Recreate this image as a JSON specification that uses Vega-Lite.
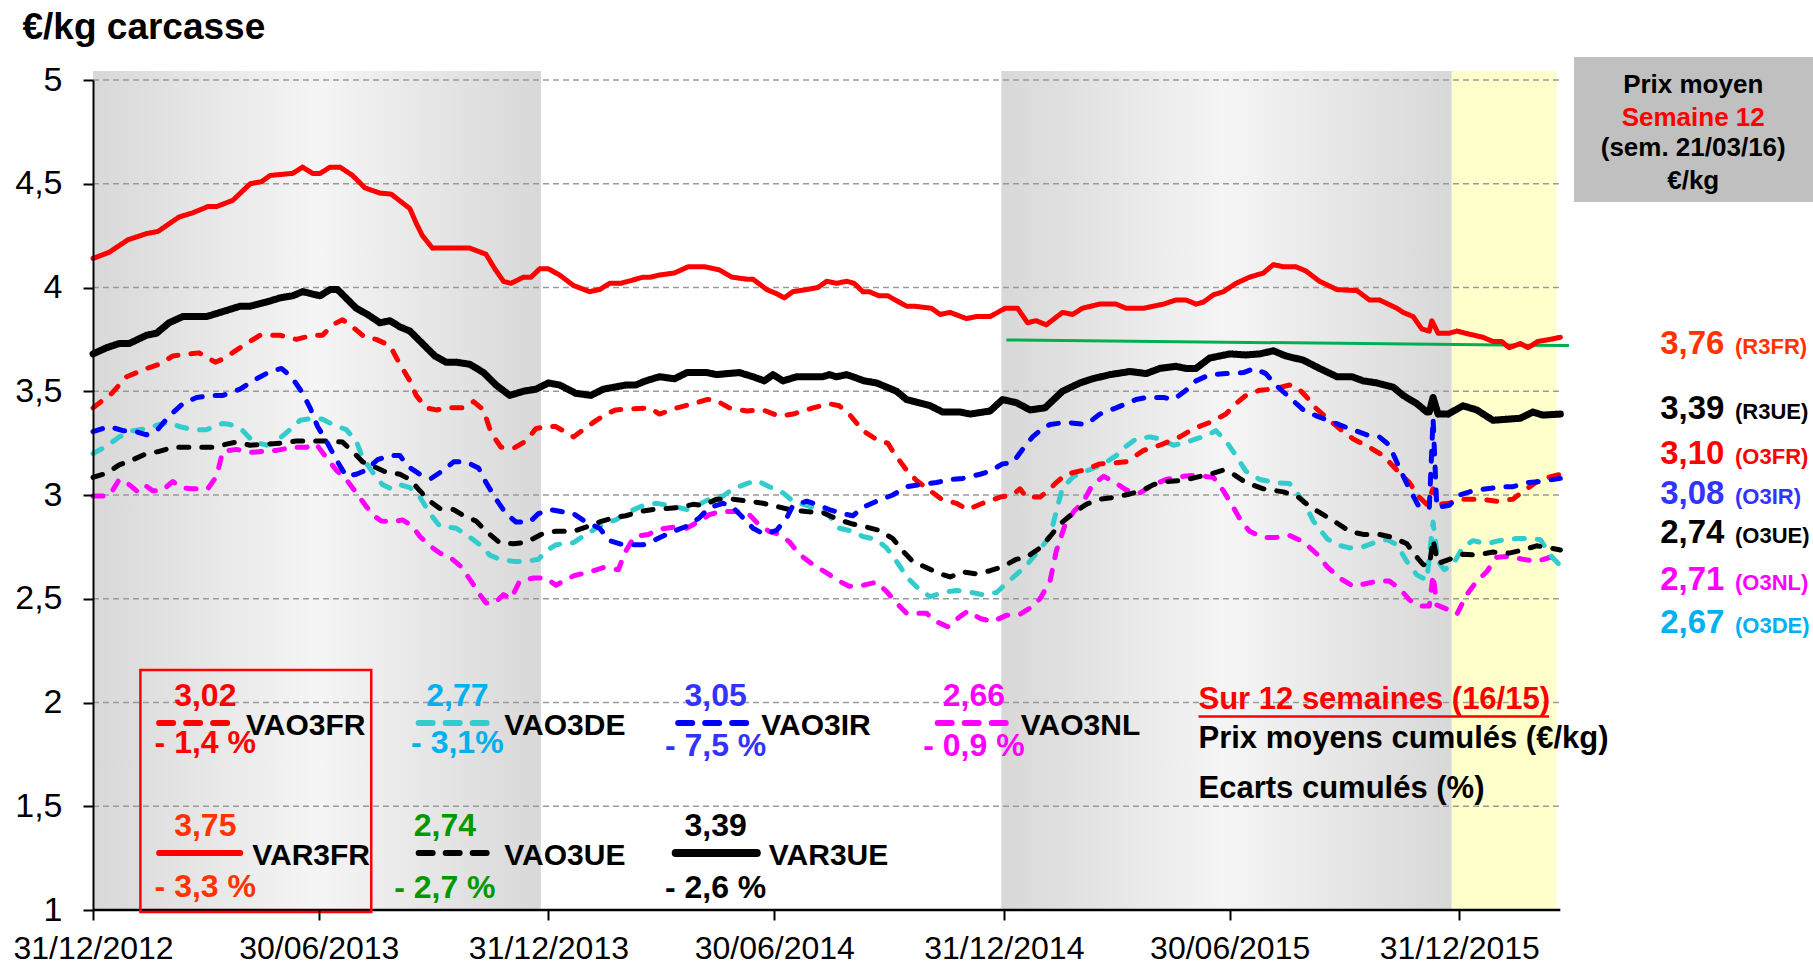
{
  "$schema": "https://vega.github.io/schema/vega-lite/v6.json",
  "width": 1720,
  "height": 830,
  "autosize": {"type": "none"},
  "padding": {"left": 93, "top": 80, "right": 0, "bottom": 57},
  "background": "white",
  "config": {"view": {"stroke": null}, "font": "Liberation Sans"},
  "datasets": {
    "legend": [
      {"s": "O3FR", "label": "VAO3FR", "price": "3,02", "pct": "- 1,4 %", "a": "2013-02-22", "b": "2013-04-23", "c": "2013-03-31", "y": 1.901, "q": 1.805},
      {"s": "O3DE", "label": "VAO3DE", "price": "2,77", "pct": "- 3,1%", "a": "2013-09-18", "b": "2013-11-16", "c": "2013-10-19", "y": 1.901, "q": 1.805},
      {"s": "O3IR", "label": "VAO3IR", "price": "3,05", "pct": "- 7,5 %", "a": "2014-04-14", "b": "2014-06-10", "c": "2014-05-14", "y": 1.901, "q": 1.79},
      {"s": "O3NL", "label": "VAO3NL", "price": "2,66", "pct": "- 0,9 %", "a": "2014-11-08", "b": "2015-01-04", "c": "2014-12-07", "y": 1.901, "q": 1.79},
      {"s": "R3FR", "label": "VAR3FR", "price": "3,75", "pct": "- 3,3 %", "a": "2013-02-22", "b": "2013-04-28", "c": "2013-03-31", "y": 1.275, "q": 1.113},
      {"s": "O3UE", "label": "VAO3UE", "price": "2,74", "pct": "- 2,7 %", "a": "2013-09-18", "b": "2013-11-16", "c": "2013-10-09", "y": 1.275, "q": 1.106},
      {"s": "R3UE", "label": "VAR3UE", "price": "3,39", "pct": "- 2,6 %", "a": "2014-04-12", "b": "2014-06-16", "c": "2014-05-14", "y": 1.275, "q": 1.106}
    ],
    "latest": [
      {"s": "R3FR", "price": "3,76", "code": "(R3FR)", "y": 3.68},
      {"s": "R3UE", "price": "3,39", "code": "(R3UE)", "y": 3.365},
      {"s": "O3FR", "price": "3,10", "code": "(O3FR)", "y": 3.15},
      {"s": "O3IR", "price": "3,08", "code": "(O3IR)", "y": 2.955},
      {"s": "O3UE", "price": "2,74", "code": "(O3UE)", "y": 2.77},
      {"s": "O3NL", "price": "2,71", "code": "(O3NL)", "y": 2.54},
      {"s": "O3DE", "price": "2,67", "code": "(O3DE)", "y": 2.335}
    ]
  },
  "resolve": {"scale": {"color": "independent", "strokeDash": "independent"}},
  "layer": [
    {
      "data": {"values": [{"a": "2012-12-31", "b": "2013-12-25"}, {"a": "2014-12-29", "b": "2015-12-25"}]},
      "mark": {"type": "rect", "color": {"gradient": "linear", "x1": 0, "x2": 1, "y1": 0, "y2": 0, "stops": [{"offset": 0, "color": "#d8d8d8"}, {"offset": 0.5, "color": "#f5f5f5"}, {"offset": 1, "color": "#d8d8d8"}]}},
      "encoding": {
        "x": {"field": "a", "type": "temporal", "scale": {"domain": [{"year": 2012, "month": 12, "date": 31}, {"year": 2016, "month": 10, "date": 9, "hours": 12}]}},
        "x2": {"field": "b"},
        "y": {"datum": 5.043, "type": "quantitative", "scale": {"domain": [1, 5]}},
        "y2": {"datum": 1}
      }
    },
    {
      "data": {"values": [{"a": "2015-12-25", "b": "2016-03-18"}]},
      "mark": {"type": "rect", "color": "#FFFFCC"},
      "encoding": {
        "x": {"field": "a", "type": "temporal"},
        "x2": {"field": "b"},
        "y": {"datum": 5.043, "type": "quantitative"},
        "y2": {"datum": 1}
      }
    },
    {
      "data": {"values": [{"g": 1.5}, {"g": 2}, {"g": 2.5}, {"g": 3}, {"g": 3.5}, {"g": 4}, {"g": 4.5}, {"g": 5}]},
      "mark": {"type": "rule", "color": "#9a9a9a", "strokeWidth": 1.6, "strokeDash": [6, 4]},
      "encoding": {
        "x": {"datum": {"year": 2012, "month": 12, "date": 31}, "type": "temporal"},
        "x2": {"datum": {"year": 2016, "month": 3, "date": 21}},
        "y": {"field": "g", "type": "quantitative"}
      }
    },
    {
      "data": {"values": [{"g": 1}]},
      "mark": {"type": "rule", "color": "black", "strokeWidth": 2.5},
      "encoding": {
        "x": {"datum": {"year": 2012, "month": 12, "date": 31}, "type": "temporal"},
        "x2": {"datum": {"year": 2016, "month": 3, "date": 21}},
        "y": {"field": "g", "type": "quantitative"}
      }
    },
    {
      "data": {"values": [{}]},
      "mark": {"type": "rect", "fill": "transparent", "stroke": "#FF0000", "strokeWidth": 2.5},
      "encoding": {
        "x": {"datum": {"year": 2013, "month": 2, "date": 7}, "type": "temporal"},
        "x2": {"datum": {"year": 2013, "month": 8, "date": 11}},
        "y": {"datum": 2.157, "type": "quantitative"},
        "y2": {"datum": 0.99}
      }
    },
    {
      "data": {"values": [{"t": "2015-01-02", "v": 3.747}, {"t": "2016-03-28", "v": 3.72}]},
      "mark": {"type": "line", "color": "#00B050", "strokeWidth": 3},
      "encoding": {
        "x": {"field": "t", "type": "temporal"},
        "y": {"field": "v", "type": "quantitative"}
      }
    },
    {
      "data": {
        "format": {"parse": {"t": "date:'%Y-%j'"}},
        "values": [
          {"s":"O3NL","t":"2012-366","v":2.995},{"s":"O3NL","t":"2013-012","v":2.995},{"s":"O3NL","t":"2013-016","v":3.025},{"s":"O3NL","t":"2013-021","v":3.075},{"s":"O3NL","t":"2013-029","v":3.05},{"s":"O3NL","t":"2013-035","v":3.02},{"s":"O3NL","t":"2013-041","v":3.05},{"s":"O3NL","t":"2013-048","v":3.02},{"s":"O3NL","t":"2013-055","v":3.02},{"s":"O3NL","t":"2013-064","v":3.065},{"s":"O3NL","t":"2013-071","v":3.035},{"s":"O3NL","t":"2013-080","v":3.03},{"s":"O3NL","t":"2013-092","v":3.03},{"s":"O3NL","t":"2013-099","v":3.09},{"s":"O3NL","t":"2013-104","v":3.21},{"s":"O3NL","t":"2013-115","v":3.22},{"s":"O3NL","t":"2013-126","v":3.205},{"s":"O3NL","t":"2013-136","v":3.21},{"s":"O3NL","t":"2013-147","v":3.215},{"s":"O3NL","t":"2013-160","v":3.23},{"s":"O3NL","t":"2013-171","v":3.23},{"s":"O3NL","t":"2013-179","v":3.245},{"s":"O3NL","t":"2013-187","v":3.18},{"s":"O3NL","t":"2013-195","v":3.12},{"s":"O3NL","t":"2013-203","v":3.075},{"s":"O3NL","t":"2013-211","v":3.01},{"s":"O3NL","t":"2013-219","v":2.945},{"s":"O3NL","t":"2013-224","v":2.905},{"s":"O3NL","t":"2013-231","v":2.875},{"s":"O3NL","t":"2013-240","v":2.87},{"s":"O3NL","t":"2013-248","v":2.88},{"s":"O3NL","t":"2013-256","v":2.85},{"s":"O3NL","t":"2013-262","v":2.8},{"s":"O3NL","t":"2013-270","v":2.755},{"s":"O3NL","t":"2013-278","v":2.72},{"s":"O3NL","t":"2013-286","v":2.7},{"s":"O3NL","t":"2013-295","v":2.655},{"s":"O3NL","t":"2013-303","v":2.585},{"s":"O3NL","t":"2013-310","v":2.52},{"s":"O3NL","t":"2013-315","v":2.48},{"s":"O3NL","t":"2013-322","v":2.48},{"s":"O3NL","t":"2013-329","v":2.52},{"s":"O3NL","t":"2013-335","v":2.5},{"s":"O3NL","t":"2013-342","v":2.585},{"s":"O3NL","t":"2013-353","v":2.6},{"s":"O3NL","t":"2013-363","v":2.6},{"s":"O3NL","t":"2014-006","v":2.565},{"s":"O3NL","t":"2014-020","v":2.61},{"s":"O3NL","t":"2014-033","v":2.63},{"s":"O3NL","t":"2014-044","v":2.65},{"s":"O3NL","t":"2014-056","v":2.64},{"s":"O3NL","t":"2014-062","v":2.73},{"s":"O3NL","t":"2014-069","v":2.8},{"s":"O3NL","t":"2014-080","v":2.81},{"s":"O3NL","t":"2014-089","v":2.835},{"s":"O3NL","t":"2014-100","v":2.845},{"s":"O3NL","t":"2014-111","v":2.84},{"s":"O3NL","t":"2014-121","v":2.875},{"s":"O3NL","t":"2014-129","v":2.905},{"s":"O3NL","t":"2014-137","v":2.92},{"s":"O3NL","t":"2014-151","v":2.92},{"s":"O3NL","t":"2014-161","v":2.905},{"s":"O3NL","t":"2014-169","v":2.855},{"s":"O3NL","t":"2014-177","v":2.825},{"s":"O3NL","t":"2014-185","v":2.81},{"s":"O3NL","t":"2014-193","v":2.775},{"s":"O3NL","t":"2014-201","v":2.715},{"s":"O3NL","t":"2014-212","v":2.665},{"s":"O3NL","t":"2014-223","v":2.625},{"s":"O3NL","t":"2014-233","v":2.585},{"s":"O3NL","t":"2014-241","v":2.56},{"s":"O3NL","t":"2014-252","v":2.565},{"s":"O3NL","t":"2014-263","v":2.58},{"s":"O3NL","t":"2014-271","v":2.535},{"s":"O3NL","t":"2014-279","v":2.48},{"s":"O3NL","t":"2014-287","v":2.43},{"s":"O3NL","t":"2014-303","v":2.43},{"s":"O3NL","t":"2014-311","v":2.39},{"s":"O3NL","t":"2014-320","v":2.365},{"s":"O3NL","t":"2014-330","v":2.415},{"s":"O3NL","t":"2014-336","v":2.44},{"s":"O3NL","t":"2014-346","v":2.405},{"s":"O3NL","t":"2014-356","v":2.39},{"s":"O3NL","t":"2015-002","v":2.42},{"s":"O3NL","t":"2015-013","v":2.425},{"s":"O3NL","t":"2015-021","v":2.455},{"s":"O3NL","t":"2015-029","v":2.5},{"s":"O3NL","t":"2015-037","v":2.585},{"s":"O3NL","t":"2015-042","v":2.73},{"s":"O3NL","t":"2015-049","v":2.855},{"s":"O3NL","t":"2015-056","v":2.92},{"s":"O3NL","t":"2015-064","v":2.97},{"s":"O3NL","t":"2015-071","v":3.05},{"s":"O3NL","t":"2015-080","v":3.09},{"s":"O3NL","t":"2015-088","v":3.065},{"s":"O3NL","t":"2015-098","v":3.025},{"s":"O3NL","t":"2015-109","v":3.01},{"s":"O3NL","t":"2015-120","v":3.05},{"s":"O3NL","t":"2015-130","v":3.075},{"s":"O3NL","t":"2015-144","v":3.09},{"s":"O3NL","t":"2015-154","v":3.095},{"s":"O3NL","t":"2015-168","v":3.085},{"s":"O3NL","t":"2015-176","v":3.02},{"s":"O3NL","t":"2015-184","v":2.94},{"s":"O3NL","t":"2015-190","v":2.875},{"s":"O3NL","t":"2015-197","v":2.825},{"s":"O3NL","t":"2015-208","v":2.795},{"s":"O3NL","t":"2015-218","v":2.795},{"s":"O3NL","t":"2015-229","v":2.805},{"s":"O3NL","t":"2015-240","v":2.775},{"s":"O3NL","t":"2015-251","v":2.715},{"s":"O3NL","t":"2015-259","v":2.655},{"s":"O3NL","t":"2015-269","v":2.6},{"s":"O3NL","t":"2015-280","v":2.56},{"s":"O3NL","t":"2015-288","v":2.57},{"s":"O3NL","t":"2015-299","v":2.585},{"s":"O3NL","t":"2015-309","v":2.585},{"s":"O3NL","t":"2015-317","v":2.55},{"s":"O3NL","t":"2015-325","v":2.495},{"s":"O3NL","t":"2015-333","v":2.465},{"s":"O3NL","t":"2015-341","v":2.465},{"s":"O3NL","t":"2015-344","v":2.615},{"s":"O3NL","t":"2015-347","v":2.47},{"s":"O3NL","t":"2015-355","v":2.45},{"s":"O3NL","t":"2015-363","v":2.425},{"s":"O3NL","t":"2016-006","v":2.52},{"s":"O3NL","t":"2016-014","v":2.585},{"s":"O3NL","t":"2016-022","v":2.63},{"s":"O3NL","t":"2016-030","v":2.7},{"s":"O3NL","t":"2016-040","v":2.705},{"s":"O3NL","t":"2016-051","v":2.69},{"s":"O3NL","t":"2016-062","v":2.68},{"s":"O3NL","t":"2016-073","v":2.7},{"s":"O3NL","t":"2016-081","v":2.71},
          {"s":"O3DE","t":"2012-366","v":3.2},{"s":"O3DE","t":"2013-011","v":3.235},{"s":"O3DE","t":"2013-021","v":3.28},{"s":"O3DE","t":"2013-032","v":3.31},{"s":"O3DE","t":"2013-043","v":3.32},{"s":"O3DE","t":"2013-053","v":3.34},{"s":"O3DE","t":"2013-061","v":3.35},{"s":"O3DE","t":"2013-069","v":3.33},{"s":"O3DE","t":"2013-080","v":3.315},{"s":"O3DE","t":"2013-091","v":3.315},{"s":"O3DE","t":"2013-104","v":3.345},{"s":"O3DE","t":"2013-110","v":3.34},{"s":"O3DE","t":"2013-120","v":3.31},{"s":"O3DE","t":"2013-128","v":3.26},{"s":"O3DE","t":"2013-139","v":3.24},{"s":"O3DE","t":"2013-147","v":3.26},{"s":"O3DE","t":"2013-155","v":3.3},{"s":"O3DE","t":"2013-166","v":3.36},{"s":"O3DE","t":"2013-176","v":3.37},{"s":"O3DE","t":"2013-184","v":3.365},{"s":"O3DE","t":"2013-192","v":3.34},{"s":"O3DE","t":"2013-203","v":3.315},{"s":"O3DE","t":"2013-211","v":3.26},{"s":"O3DE","t":"2013-216","v":3.18},{"s":"O3DE","t":"2013-224","v":3.11},{"s":"O3DE","t":"2013-232","v":3.05},{"s":"O3DE","t":"2013-239","v":3.03},{"s":"O3DE","t":"2013-246","v":3.05},{"s":"O3DE","t":"2013-254","v":3.035},{"s":"O3DE","t":"2013-262","v":2.99},{"s":"O3DE","t":"2013-270","v":2.91},{"s":"O3DE","t":"2013-278","v":2.85},{"s":"O3DE","t":"2013-291","v":2.84},{"s":"O3DE","t":"2013-299","v":2.81},{"s":"O3DE","t":"2013-310","v":2.76},{"s":"O3DE","t":"2013-318","v":2.71},{"s":"O3DE","t":"2013-326","v":2.69},{"s":"O3DE","t":"2013-337","v":2.68},{"s":"O3DE","t":"2013-347","v":2.68},{"s":"O3DE","t":"2013-357","v":2.69},{"s":"O3DE","t":"2013-363","v":2.73},{"s":"O3DE","t":"2014-006","v":2.76},{"s":"O3DE","t":"2014-020","v":2.77},{"s":"O3DE","t":"2014-030","v":2.81},{"s":"O3DE","t":"2014-044","v":2.86},{"s":"O3DE","t":"2014-054","v":2.88},{"s":"O3DE","t":"2014-065","v":2.92},{"s":"O3DE","t":"2014-076","v":2.95},{"s":"O3DE","t":"2014-086","v":2.96},{"s":"O3DE","t":"2014-097","v":2.95},{"s":"O3DE","t":"2014-111","v":2.93},{"s":"O3DE","t":"2014-121","v":2.955},{"s":"O3DE","t":"2014-132","v":2.99},{"s":"O3DE","t":"2014-140","v":2.995},{"s":"O3DE","t":"2014-148","v":3.03},{"s":"O3DE","t":"2014-159","v":3.055},{"s":"O3DE","t":"2014-167","v":3.07},{"s":"O3DE","t":"2014-177","v":3.04},{"s":"O3DE","t":"2014-188","v":3.01},{"s":"O3DE","t":"2014-196","v":2.97},{"s":"O3DE","t":"2014-207","v":2.95},{"s":"O3DE","t":"2014-217","v":2.93},{"s":"O3DE","t":"2014-225","v":2.9},{"s":"O3DE","t":"2014-233","v":2.84},{"s":"O3DE","t":"2014-244","v":2.825},{"s":"O3DE","t":"2014-252","v":2.8},{"s":"O3DE","t":"2014-263","v":2.785},{"s":"O3DE","t":"2014-271","v":2.745},{"s":"O3DE","t":"2014-279","v":2.68},{"s":"O3DE","t":"2014-288","v":2.6},{"s":"O3DE","t":"2014-298","v":2.54},{"s":"O3DE","t":"2014-306","v":2.51},{"s":"O3DE","t":"2014-316","v":2.53},{"s":"O3DE","t":"2014-327","v":2.54},{"s":"O3DE","t":"2014-335","v":2.535},{"s":"O3DE","t":"2014-348","v":2.52},{"s":"O3DE","t":"2014-359","v":2.53},{"s":"O3DE","t":"2015-005","v":2.59},{"s":"O3DE","t":"2015-018","v":2.66},{"s":"O3DE","t":"2015-029","v":2.74},{"s":"O3DE","t":"2015-037","v":2.8},{"s":"O3DE","t":"2015-042","v":2.92},{"s":"O3DE","t":"2015-047","v":3.035},{"s":"O3DE","t":"2015-056","v":3.09},{"s":"O3DE","t":"2015-066","v":3.115},{"s":"O3DE","t":"2015-080","v":3.15},{"s":"O3DE","t":"2015-090","v":3.19},{"s":"O3DE","t":"2015-098","v":3.235},{"s":"O3DE","t":"2015-106","v":3.27},{"s":"O3DE","t":"2015-117","v":3.28},{"s":"O3DE","t":"2015-125","v":3.27},{"s":"O3DE","t":"2015-136","v":3.24},{"s":"O3DE","t":"2015-144","v":3.25},{"s":"O3DE","t":"2015-154","v":3.27},{"s":"O3DE","t":"2015-162","v":3.285},{"s":"O3DE","t":"2015-170","v":3.31},{"s":"O3DE","t":"2015-178","v":3.26},{"s":"O3DE","t":"2015-186","v":3.19},{"s":"O3DE","t":"2015-194","v":3.115},{"s":"O3DE","t":"2015-205","v":3.075},{"s":"O3DE","t":"2015-218","v":3.06},{"s":"O3DE","t":"2015-229","v":3.055},{"s":"O3DE","t":"2015-240","v":2.97},{"s":"O3DE","t":"2015-248","v":2.875},{"s":"O3DE","t":"2015-259","v":2.79},{"s":"O3DE","t":"2015-267","v":2.76},{"s":"O3DE","t":"2015-277","v":2.745},{"s":"O3DE","t":"2015-288","v":2.75},{"s":"O3DE","t":"2015-299","v":2.775},{"s":"O3DE","t":"2015-307","v":2.785},{"s":"O3DE","t":"2015-315","v":2.76},{"s":"O3DE","t":"2015-323","v":2.68},{"s":"O3DE","t":"2015-331","v":2.615},{"s":"O3DE","t":"2015-339","v":2.59},{"s":"O3DE","t":"2015-344","v":2.87},{"s":"O3DE","t":"2015-348","v":2.68},{"s":"O3DE","t":"2015-353","v":2.64},{"s":"O3DE","t":"2015-360","v":2.665},{"s":"O3DE","t":"2016-003","v":2.75},{"s":"O3DE","t":"2016-011","v":2.78},{"s":"O3DE","t":"2016-022","v":2.765},{"s":"O3DE","t":"2016-032","v":2.78},{"s":"O3DE","t":"2016-046","v":2.79},{"s":"O3DE","t":"2016-057","v":2.79},{"s":"O3DE","t":"2016-065","v":2.785},{"s":"O3DE","t":"2016-073","v":2.71},{"s":"O3DE","t":"2016-081","v":2.66},
          {"s":"O3UE","t":"2012-366","v":3.085},{"s":"O3UE","t":"2013-011","v":3.105},{"s":"O3UE","t":"2013-021","v":3.145},{"s":"O3UE","t":"2013-032","v":3.17},{"s":"O3UE","t":"2013-043","v":3.2},{"s":"O3UE","t":"2013-053","v":3.21},{"s":"O3UE","t":"2013-064","v":3.23},{"s":"O3UE","t":"2013-096","v":3.23},{"s":"O3UE","t":"2013-107","v":3.245},{"s":"O3UE","t":"2013-115","v":3.255},{"s":"O3UE","t":"2013-126","v":3.24},{"s":"O3UE","t":"2013-139","v":3.245},{"s":"O3UE","t":"2013-150","v":3.25},{"s":"O3UE","t":"2013-163","v":3.26},{"s":"O3UE","t":"2013-187","v":3.26},{"s":"O3UE","t":"2013-200","v":3.255},{"s":"O3UE","t":"2013-208","v":3.21},{"s":"O3UE","t":"2013-216","v":3.16},{"s":"O3UE","t":"2013-224","v":3.14},{"s":"O3UE","t":"2013-235","v":3.11},{"s":"O3UE","t":"2013-246","v":3.1},{"s":"O3UE","t":"2013-254","v":3.075},{"s":"O3UE","t":"2013-262","v":3.02},{"s":"O3UE","t":"2013-270","v":2.97},{"s":"O3UE","t":"2013-278","v":2.935},{"s":"O3UE","t":"2013-289","v":2.93},{"s":"O3UE","t":"2013-297","v":2.9},{"s":"O3UE","t":"2013-307","v":2.875},{"s":"O3UE","t":"2013-315","v":2.825},{"s":"O3UE","t":"2013-326","v":2.77},{"s":"O3UE","t":"2013-337","v":2.765},{"s":"O3UE","t":"2013-345","v":2.77},{"s":"O3UE","t":"2013-353","v":2.79},{"s":"O3UE","t":"2013-361","v":2.815},{"s":"O3UE","t":"2014-006","v":2.825},{"s":"O3UE","t":"2014-020","v":2.825},{"s":"O3UE","t":"2014-030","v":2.845},{"s":"O3UE","t":"2014-041","v":2.87},{"s":"O3UE","t":"2014-052","v":2.89},{"s":"O3UE","t":"2014-062","v":2.9},{"s":"O3UE","t":"2014-073","v":2.92},{"s":"O3UE","t":"2014-084","v":2.93},{"s":"O3UE","t":"2014-095","v":2.935},{"s":"O3UE","t":"2014-105","v":2.94},{"s":"O3UE","t":"2014-116","v":2.955},{"s":"O3UE","t":"2014-124","v":2.95},{"s":"O3UE","t":"2014-135","v":2.98},{"s":"O3UE","t":"2014-148","v":2.98},{"s":"O3UE","t":"2014-161","v":2.97},{"s":"O3UE","t":"2014-172","v":2.96},{"s":"O3UE","t":"2014-183","v":2.945},{"s":"O3UE","t":"2014-193","v":2.93},{"s":"O3UE","t":"2014-207","v":2.92},{"s":"O3UE","t":"2014-220","v":2.915},{"s":"O3UE","t":"2014-233","v":2.88},{"s":"O3UE","t":"2014-244","v":2.86},{"s":"O3UE","t":"2014-255","v":2.845},{"s":"O3UE","t":"2014-265","v":2.83},{"s":"O3UE","t":"2014-276","v":2.79},{"s":"O3UE","t":"2014-284","v":2.73},{"s":"O3UE","t":"2014-292","v":2.68},{"s":"O3UE","t":"2014-303","v":2.65},{"s":"O3UE","t":"2014-314","v":2.62},{"s":"O3UE","t":"2014-322","v":2.605},{"s":"O3UE","t":"2014-332","v":2.63},{"s":"O3UE","t":"2014-343","v":2.62},{"s":"O3UE","t":"2014-354","v":2.635},{"s":"O3UE","t":"2014-364","v":2.655},{"s":"O3UE","t":"2015-010","v":2.69},{"s":"O3UE","t":"2015-018","v":2.7},{"s":"O3UE","t":"2015-029","v":2.745},{"s":"O3UE","t":"2015-037","v":2.8},{"s":"O3UE","t":"2015-045","v":2.86},{"s":"O3UE","t":"2015-056","v":2.915},{"s":"O3UE","t":"2015-066","v":2.955},{"s":"O3UE","t":"2015-077","v":2.98},{"s":"O3UE","t":"2015-090","v":2.99},{"s":"O3UE","t":"2015-101","v":3.005},{"s":"O3UE","t":"2015-112","v":3.025},{"s":"O3UE","t":"2015-120","v":3.05},{"s":"O3UE","t":"2015-130","v":3.065},{"s":"O3UE","t":"2015-144","v":3.07},{"s":"O3UE","t":"2015-154","v":3.085},{"s":"O3UE","t":"2015-165","v":3.1},{"s":"O3UE","t":"2015-176","v":3.12},{"s":"O3UE","t":"2015-184","v":3.1},{"s":"O3UE","t":"2015-194","v":3.06},{"s":"O3UE","t":"2015-208","v":3.03},{"s":"O3UE","t":"2015-224","v":3.015},{"s":"O3UE","t":"2015-235","v":2.995},{"s":"O3UE","t":"2015-245","v":2.945},{"s":"O3UE","t":"2015-256","v":2.905},{"s":"O3UE","t":"2015-267","v":2.865},{"s":"O3UE","t":"2015-277","v":2.825},{"s":"O3UE","t":"2015-288","v":2.81},{"s":"O3UE","t":"2015-301","v":2.81},{"s":"O3UE","t":"2015-312","v":2.795},{"s":"O3UE","t":"2015-323","v":2.765},{"s":"O3UE","t":"2015-329","v":2.715},{"s":"O3UE","t":"2015-336","v":2.665},{"s":"O3UE","t":"2015-341","v":2.66},{"s":"O3UE","t":"2015-344","v":2.785},{"s":"O3UE","t":"2015-348","v":2.67},{"s":"O3UE","t":"2015-357","v":2.69},{"s":"O3UE","t":"2016-003","v":2.715},{"s":"O3UE","t":"2016-014","v":2.71},{"s":"O3UE","t":"2016-027","v":2.725},{"s":"O3UE","t":"2016-040","v":2.72},{"s":"O3UE","t":"2016-051","v":2.735},{"s":"O3UE","t":"2016-062","v":2.755},{"s":"O3UE","t":"2016-073","v":2.745},{"s":"O3UE","t":"2016-081","v":2.735},
          {"s":"O3FR","t":"2012-366","v":3.42},{"s":"O3FR","t":"2013-015","v":3.49},{"s":"O3FR","t":"2013-027","v":3.57},{"s":"O3FR","t":"2013-043","v":3.61},{"s":"O3FR","t":"2013-053","v":3.63},{"s":"O3FR","t":"2013-064","v":3.67},{"s":"O3FR","t":"2013-077","v":3.68},{"s":"O3FR","t":"2013-085","v":3.685},{"s":"O3FR","t":"2013-098","v":3.64},{"s":"O3FR","t":"2013-104","v":3.655},{"s":"O3FR","t":"2013-123","v":3.73},{"s":"O3FR","t":"2013-134","v":3.77},{"s":"O3FR","t":"2013-150","v":3.77},{"s":"O3FR","t":"2013-163","v":3.75},{"s":"O3FR","t":"2013-176","v":3.77},{"s":"O3FR","t":"2013-184","v":3.77},{"s":"O3FR","t":"2013-192","v":3.82},{"s":"O3FR","t":"2013-200","v":3.845},{"s":"O3FR","t":"2013-208","v":3.81},{"s":"O3FR","t":"2013-218","v":3.76},{"s":"O3FR","t":"2013-227","v":3.75},{"s":"O3FR","t":"2013-238","v":3.72},{"s":"O3FR","t":"2013-246","v":3.63},{"s":"O3FR","t":"2013-254","v":3.55},{"s":"O3FR","t":"2013-259","v":3.48},{"s":"O3FR","t":"2013-267","v":3.42},{"s":"O3FR","t":"2013-275","v":3.41},{"s":"O3FR","t":"2013-286","v":3.42},{"s":"O3FR","t":"2013-297","v":3.42},{"s":"O3FR","t":"2013-305","v":3.45},{"s":"O3FR","t":"2013-313","v":3.41},{"s":"O3FR","t":"2013-319","v":3.3},{"s":"O3FR","t":"2013-327","v":3.23},{"s":"O3FR","t":"2013-337","v":3.225},{"s":"O3FR","t":"2013-347","v":3.26},{"s":"O3FR","t":"2013-355","v":3.32},{"s":"O3FR","t":"2013-363","v":3.33},{"s":"O3FR","t":"2014-006","v":3.33},{"s":"O3FR","t":"2014-020","v":3.28},{"s":"O3FR","t":"2014-036","v":3.35},{"s":"O3FR","t":"2014-046","v":3.39},{"s":"O3FR","t":"2014-054","v":3.41},{"s":"O3FR","t":"2014-081","v":3.42},{"s":"O3FR","t":"2014-089","v":3.39},{"s":"O3FR","t":"2014-103","v":3.42},{"s":"O3FR","t":"2014-116","v":3.44},{"s":"O3FR","t":"2014-127","v":3.46},{"s":"O3FR","t":"2014-133","v":3.46},{"s":"O3FR","t":"2014-145","v":3.42},{"s":"O3FR","t":"2014-159","v":3.405},{"s":"O3FR","t":"2014-172","v":3.41},{"s":"O3FR","t":"2014-185","v":3.38},{"s":"O3FR","t":"2014-196","v":3.39},{"s":"O3FR","t":"2014-212","v":3.42},{"s":"O3FR","t":"2014-225","v":3.44},{"s":"O3FR","t":"2014-233","v":3.43},{"s":"O3FR","t":"2014-241","v":3.39},{"s":"O3FR","t":"2014-252","v":3.31},{"s":"O3FR","t":"2014-265","v":3.26},{"s":"O3FR","t":"2014-272","v":3.25},{"s":"O3FR","t":"2014-276","v":3.21},{"s":"O3FR","t":"2014-287","v":3.12},{"s":"O3FR","t":"2014-295","v":3.07},{"s":"O3FR","t":"2014-306","v":3.02},{"s":"O3FR","t":"2014-315","v":2.98},{"s":"O3FR","t":"2014-327","v":2.96},{"s":"O3FR","t":"2014-336","v":2.93},{"s":"O3FR","t":"2014-348","v":2.96},{"s":"O3FR","t":"2014-362","v":2.99},{"s":"O3FR","t":"2015-007","v":3.0},{"s":"O3FR","t":"2015-013","v":3.03},{"s":"O3FR","t":"2015-018","v":2.99},{"s":"O3FR","t":"2015-029","v":2.99},{"s":"O3FR","t":"2015-037","v":3.03},{"s":"O3FR","t":"2015-042","v":3.06},{"s":"O3FR","t":"2015-050","v":3.1},{"s":"O3FR","t":"2015-064","v":3.12},{"s":"O3FR","t":"2015-077","v":3.15},{"s":"O3FR","t":"2015-090","v":3.155},{"s":"O3FR","t":"2015-098","v":3.16},{"s":"O3FR","t":"2015-112","v":3.215},{"s":"O3FR","t":"2015-125","v":3.24},{"s":"O3FR","t":"2015-141","v":3.28},{"s":"O3FR","t":"2015-152","v":3.32},{"s":"O3FR","t":"2015-165","v":3.35},{"s":"O3FR","t":"2015-178","v":3.39},{"s":"O3FR","t":"2015-186","v":3.44},{"s":"O3FR","t":"2015-194","v":3.48},{"s":"O3FR","t":"2015-205","v":3.505},{"s":"O3FR","t":"2015-216","v":3.51},{"s":"O3FR","t":"2015-229","v":3.53},{"s":"O3FR","t":"2015-235","v":3.52},{"s":"O3FR","t":"2015-243","v":3.47},{"s":"O3FR","t":"2015-248","v":3.43},{"s":"O3FR","t":"2015-259","v":3.37},{"s":"O3FR","t":"2015-269","v":3.32},{"s":"O3FR","t":"2015-280","v":3.27},{"s":"O3FR","t":"2015-293","v":3.23},{"s":"O3FR","t":"2015-304","v":3.19},{"s":"O3FR","t":"2015-315","v":3.12},{"s":"O3FR","t":"2015-325","v":3.06},{"s":"O3FR","t":"2015-333","v":2.99},{"s":"O3FR","t":"2015-339","v":2.955},{"s":"O3FR","t":"2015-344","v":3.03},{"s":"O3FR","t":"2015-349","v":2.955},{"s":"O3FR","t":"2015-357","v":2.96},{"s":"O3FR","t":"2016-003","v":2.98},{"s":"O3FR","t":"2016-016","v":2.98},{"s":"O3FR","t":"2016-030","v":2.97},{"s":"O3FR","t":"2016-043","v":2.98},{"s":"O3FR","t":"2016-054","v":3.03},{"s":"O3FR","t":"2016-065","v":3.075},{"s":"O3FR","t":"2016-081","v":3.1},
          {"s":"O3IR","t":"2012-366","v":3.305},{"s":"O3IR","t":"2013-013","v":3.33},{"s":"O3IR","t":"2013-024","v":3.31},{"s":"O3IR","t":"2013-032","v":3.31},{"s":"O3IR","t":"2013-043","v":3.29},{"s":"O3IR","t":"2013-051","v":3.31},{"s":"O3IR","t":"2013-061","v":3.38},{"s":"O3IR","t":"2013-072","v":3.44},{"s":"O3IR","t":"2013-083","v":3.47},{"s":"O3IR","t":"2013-096","v":3.48},{"s":"O3IR","t":"2013-104","v":3.48},{"s":"O3IR","t":"2013-118","v":3.51},{"s":"O3IR","t":"2013-128","v":3.55},{"s":"O3IR","t":"2013-142","v":3.595},{"s":"O3IR","t":"2013-151","v":3.61},{"s":"O3IR","t":"2013-159","v":3.57},{"s":"O3IR","t":"2013-167","v":3.5},{"s":"O3IR","t":"2013-174","v":3.42},{"s":"O3IR","t":"2013-180","v":3.33},{"s":"O3IR","t":"2013-187","v":3.26},{"s":"O3IR","t":"2013-196","v":3.16},{"s":"O3IR","t":"2013-203","v":3.09},{"s":"O3IR","t":"2013-211","v":3.1},{"s":"O3IR","t":"2013-219","v":3.12},{"s":"O3IR","t":"2013-228","v":3.17},{"s":"O3IR","t":"2013-238","v":3.19},{"s":"O3IR","t":"2013-246","v":3.19},{"s":"O3IR","t":"2013-252","v":3.14},{"s":"O3IR","t":"2013-262","v":3.1},{"s":"O3IR","t":"2013-271","v":3.08},{"s":"O3IR","t":"2013-281","v":3.12},{"s":"O3IR","t":"2013-289","v":3.16},{"s":"O3IR","t":"2013-299","v":3.16},{"s":"O3IR","t":"2013-309","v":3.13},{"s":"O3IR","t":"2013-315","v":3.06},{"s":"O3IR","t":"2013-323","v":2.98},{"s":"O3IR","t":"2013-331","v":2.91},{"s":"O3IR","t":"2013-339","v":2.87},{"s":"O3IR","t":"2013-350","v":2.87},{"s":"O3IR","t":"2013-357","v":2.91},{"s":"O3IR","t":"2014-001","v":2.93},{"s":"O3IR","t":"2014-020","v":2.91},{"s":"O3IR","t":"2014-030","v":2.87},{"s":"O3IR","t":"2014-041","v":2.84},{"s":"O3IR","t":"2014-049","v":2.78},{"s":"O3IR","t":"2014-060","v":2.76},{"s":"O3IR","t":"2014-076","v":2.76},{"s":"O3IR","t":"2014-086","v":2.785},{"s":"O3IR","t":"2014-100","v":2.825},{"s":"O3IR","t":"2014-111","v":2.85},{"s":"O3IR","t":"2014-121","v":2.89},{"s":"O3IR","t":"2014-129","v":2.94},{"s":"O3IR","t":"2014-140","v":2.96},{"s":"O3IR","t":"2014-148","v":2.94},{"s":"O3IR","t":"2014-156","v":2.89},{"s":"O3IR","t":"2014-164","v":2.84},{"s":"O3IR","t":"2014-173","v":2.81},{"s":"O3IR","t":"2014-183","v":2.83},{"s":"O3IR","t":"2014-191","v":2.89},{"s":"O3IR","t":"2014-196","v":2.95},{"s":"O3IR","t":"2014-207","v":2.97},{"s":"O3IR","t":"2014-217","v":2.95},{"s":"O3IR","t":"2014-225","v":2.93},{"s":"O3IR","t":"2014-236","v":2.91},{"s":"O3IR","t":"2014-244","v":2.9},{"s":"O3IR","t":"2014-252","v":2.94},{"s":"O3IR","t":"2014-263","v":2.97},{"s":"O3IR","t":"2014-276","v":3.0},{"s":"O3IR","t":"2014-287","v":3.04},{"s":"O3IR","t":"2014-298","v":3.05},{"s":"O3IR","t":"2014-311","v":3.06},{"s":"O3IR","t":"2014-322","v":3.075},{"s":"O3IR","t":"2014-332","v":3.08},{"s":"O3IR","t":"2014-346","v":3.1},{"s":"O3IR","t":"2014-354","v":3.115},{"s":"O3IR","t":"2014-364","v":3.15},{"s":"O3IR","t":"2015-007","v":3.155},{"s":"O3IR","t":"2015-015","v":3.22},{"s":"O3IR","t":"2015-023","v":3.28},{"s":"O3IR","t":"2015-031","v":3.32},{"s":"O3IR","t":"2015-037","v":3.34},{"s":"O3IR","t":"2015-050","v":3.35},{"s":"O3IR","t":"2015-066","v":3.34},{"s":"O3IR","t":"2015-077","v":3.39},{"s":"O3IR","t":"2015-090","v":3.42},{"s":"O3IR","t":"2015-106","v":3.46},{"s":"O3IR","t":"2015-114","v":3.47},{"s":"O3IR","t":"2015-128","v":3.47},{"s":"O3IR","t":"2015-136","v":3.46},{"s":"O3IR","t":"2015-146","v":3.505},{"s":"O3IR","t":"2015-154","v":3.55},{"s":"O3IR","t":"2015-165","v":3.58},{"s":"O3IR","t":"2015-178","v":3.585},{"s":"O3IR","t":"2015-192","v":3.59},{"s":"O3IR","t":"2015-201","v":3.61},{"s":"O3IR","t":"2015-210","v":3.585},{"s":"O3IR","t":"2015-218","v":3.53},{"s":"O3IR","t":"2015-229","v":3.47},{"s":"O3IR","t":"2015-240","v":3.41},{"s":"O3IR","t":"2015-251","v":3.38},{"s":"O3IR","t":"2015-264","v":3.35},{"s":"O3IR","t":"2015-277","v":3.32},{"s":"O3IR","t":"2015-291","v":3.29},{"s":"O3IR","t":"2015-301","v":3.28},{"s":"O3IR","t":"2015-309","v":3.24},{"s":"O3IR","t":"2015-317","v":3.13},{"s":"O3IR","t":"2015-325","v":3.03},{"s":"O3IR","t":"2015-333","v":2.94},{"s":"O3IR","t":"2015-341","v":2.94},{"s":"O3IR","t":"2015-344","v":3.37},{"s":"O3IR","t":"2015-347","v":2.94},{"s":"O3IR","t":"2015-357","v":2.95},{"s":"O3IR","t":"2015-365","v":3.0},{"s":"O3IR","t":"2016-011","v":3.02},{"s":"O3IR","t":"2016-022","v":3.03},{"s":"O3IR","t":"2016-035","v":3.04},{"s":"O3IR","t":"2016-043","v":3.04},{"s":"O3IR","t":"2016-054","v":3.06},{"s":"O3IR","t":"2016-065","v":3.065},{"s":"O3IR","t":"2016-081","v":3.08},
          {"s":"R3UE","t":"2012-366","v":3.68},{"s":"R3UE","t":"2013-011","v":3.71},{"s":"R3UE","t":"2013-021","v":3.73},{"s":"R3UE","t":"2013-029","v":3.73},{"s":"R3UE","t":"2013-043","v":3.77},{"s":"R3UE","t":"2013-051","v":3.78},{"s":"R3UE","t":"2013-061","v":3.83},{"s":"R3UE","t":"2013-072","v":3.86},{"s":"R3UE","t":"2013-091","v":3.86},{"s":"R3UE","t":"2013-102","v":3.88},{"s":"R3UE","t":"2013-118","v":3.91},{"s":"R3UE","t":"2013-126","v":3.91},{"s":"R3UE","t":"2013-139","v":3.93},{"s":"R3UE","t":"2013-150","v":3.95},{"s":"R3UE","t":"2013-160","v":3.96},{"s":"R3UE","t":"2013-168","v":3.98},{"s":"R3UE","t":"2013-182","v":3.96},{"s":"R3UE","t":"2013-190","v":3.99},{"s":"R3UE","t":"2013-196","v":3.99},{"s":"R3UE","t":"2013-211","v":3.9},{"s":"R3UE","t":"2013-220","v":3.87},{"s":"R3UE","t":"2013-230","v":3.83},{"s":"R3UE","t":"2013-238","v":3.84},{"s":"R3UE","t":"2013-246","v":3.81},{"s":"R3UE","t":"2013-254","v":3.79},{"s":"R3UE","t":"2013-264","v":3.73},{"s":"R3UE","t":"2013-274","v":3.67},{"s":"R3UE","t":"2013-283","v":3.64},{"s":"R3UE","t":"2013-291","v":3.64},{"s":"R3UE","t":"2013-302","v":3.63},{"s":"R3UE","t":"2013-313","v":3.59},{"s":"R3UE","t":"2013-323","v":3.53},{"s":"R3UE","t":"2013-334","v":3.48},{"s":"R3UE","t":"2013-345","v":3.5},{"s":"R3UE","t":"2013-355","v":3.51},{"s":"R3UE","t":"2013-365","v":3.54},{"s":"R3UE","t":"2014-009","v":3.53},{"s":"R3UE","t":"2014-022","v":3.49},{"s":"R3UE","t":"2014-034","v":3.48},{"s":"R3UE","t":"2014-044","v":3.51},{"s":"R3UE","t":"2014-062","v":3.53},{"s":"R3UE","t":"2014-070","v":3.53},{"s":"R3UE","t":"2014-078","v":3.55},{"s":"R3UE","t":"2014-089","v":3.57},{"s":"R3UE","t":"2014-101","v":3.56},{"s":"R3UE","t":"2014-111","v":3.59},{"s":"R3UE","t":"2014-127","v":3.59},{"s":"R3UE","t":"2014-135","v":3.58},{"s":"R3UE","t":"2014-143","v":3.585},{"s":"R3UE","t":"2014-153","v":3.59},{"s":"R3UE","t":"2014-164","v":3.57},{"s":"R3UE","t":"2014-173","v":3.55},{"s":"R3UE","t":"2014-180","v":3.58},{"s":"R3UE","t":"2014-188","v":3.55},{"s":"R3UE","t":"2014-199","v":3.57},{"s":"R3UE","t":"2014-220","v":3.57},{"s":"R3UE","t":"2014-225","v":3.58},{"s":"R3UE","t":"2014-231","v":3.57},{"s":"R3UE","t":"2014-239","v":3.58},{"s":"R3UE","t":"2014-244","v":3.57},{"s":"R3UE","t":"2014-253","v":3.55},{"s":"R3UE","t":"2014-263","v":3.54},{"s":"R3UE","t":"2014-279","v":3.5},{"s":"R3UE","t":"2014-287","v":3.46},{"s":"R3UE","t":"2014-306","v":3.43},{"s":"R3UE","t":"2014-316","v":3.4},{"s":"R3UE","t":"2014-330","v":3.4},{"s":"R3UE","t":"2014-338","v":3.39},{"s":"R3UE","t":"2014-354","v":3.405},{"s":"R3UE","t":"2014-364","v":3.46},{"s":"R3UE","t":"2015-010","v":3.445},{"s":"R3UE","t":"2015-021","v":3.41},{"s":"R3UE","t":"2015-033","v":3.42},{"s":"R3UE","t":"2015-047","v":3.5},{"s":"R3UE","t":"2015-061","v":3.54},{"s":"R3UE","t":"2015-071","v":3.56},{"s":"R3UE","t":"2015-085","v":3.58},{"s":"R3UE","t":"2015-101","v":3.595},{"s":"R3UE","t":"2015-114","v":3.585},{"s":"R3UE","t":"2015-125","v":3.61},{"s":"R3UE","t":"2015-138","v":3.62},{"s":"R3UE","t":"2015-146","v":3.61},{"s":"R3UE","t":"2015-154","v":3.61},{"s":"R3UE","t":"2015-165","v":3.66},{"s":"R3UE","t":"2015-181","v":3.68},{"s":"R3UE","t":"2015-194","v":3.675},{"s":"R3UE","t":"2015-205","v":3.68},{"s":"R3UE","t":"2015-216","v":3.695},{"s":"R3UE","t":"2015-226","v":3.67},{"s":"R3UE","t":"2015-240","v":3.65},{"s":"R3UE","t":"2015-253","v":3.61},{"s":"R3UE","t":"2015-267","v":3.57},{"s":"R3UE","t":"2015-279","v":3.57},{"s":"R3UE","t":"2015-288","v":3.55},{"s":"R3UE","t":"2015-299","v":3.54},{"s":"R3UE","t":"2015-312","v":3.52},{"s":"R3UE","t":"2015-320","v":3.48},{"s":"R3UE","t":"2015-331","v":3.44},{"s":"R3UE","t":"2015-339","v":3.4},{"s":"R3UE","t":"2015-341","v":3.4},{"s":"R3UE","t":"2015-344","v":3.47},{"s":"R3UE","t":"2015-348","v":3.39},{"s":"R3UE","t":"2015-356","v":3.39},{"s":"R3UE","t":"2016-003","v":3.43},{"s":"R3UE","t":"2016-014","v":3.41},{"s":"R3UE","t":"2016-027","v":3.36},{"s":"R3UE","t":"2016-038","v":3.365},{"s":"R3UE","t":"2016-049","v":3.37},{"s":"R3UE","t":"2016-059","v":3.4},{"s":"R3UE","t":"2016-067","v":3.385},{"s":"R3UE","t":"2016-081","v":3.39},
          {"s":"R3FR","t":"2012-366","v":4.14},{"s":"R3FR","t":"2013-013","v":4.17},{"s":"R3FR","t":"2013-028","v":4.23},{"s":"R3FR","t":"2013-043","v":4.26},{"s":"R3FR","t":"2013-052","v":4.27},{"s":"R3FR","t":"2013-069","v":4.34},{"s":"R3FR","t":"2013-080","v":4.36},{"s":"R3FR","t":"2013-092","v":4.39},{"s":"R3FR","t":"2013-099","v":4.39},{"s":"R3FR","t":"2013-112","v":4.42},{"s":"R3FR","t":"2013-126","v":4.5},{"s":"R3FR","t":"2013-135","v":4.51},{"s":"R3FR","t":"2013-142","v":4.54},{"s":"R3FR","t":"2013-160","v":4.55},{"s":"R3FR","t":"2013-168","v":4.58},{"s":"R3FR","t":"2013-176","v":4.55},{"s":"R3FR","t":"2013-182","v":4.55},{"s":"R3FR","t":"2013-190","v":4.58},{"s":"R3FR","t":"2013-198","v":4.58},{"s":"R3FR","t":"2013-208","v":4.54},{"s":"R3FR","t":"2013-218","v":4.48},{"s":"R3FR","t":"2013-230","v":4.455},{"s":"R3FR","t":"2013-239","v":4.45},{"s":"R3FR","t":"2013-254","v":4.38},{"s":"R3FR","t":"2013-259","v":4.31},{"s":"R3FR","t":"2013-264","v":4.25},{"s":"R3FR","t":"2013-272","v":4.19},{"s":"R3FR","t":"2013-302","v":4.19},{"s":"R3FR","t":"2013-315","v":4.16},{"s":"R3FR","t":"2013-322","v":4.09},{"s":"R3FR","t":"2013-329","v":4.03},{"s":"R3FR","t":"2013-335","v":4.02},{"s":"R3FR","t":"2013-345","v":4.05},{"s":"R3FR","t":"2013-351","v":4.05},{"s":"R3FR","t":"2013-358","v":4.09},{"s":"R3FR","t":"2013-365","v":4.09},{"s":"R3FR","t":"2014-009","v":4.06},{"s":"R3FR","t":"2014-020","v":4.01},{"s":"R3FR","t":"2014-033","v":3.98},{"s":"R3FR","t":"2014-041","v":3.99},{"s":"R3FR","t":"2014-049","v":4.02},{"s":"R3FR","t":"2014-058","v":4.02},{"s":"R3FR","t":"2014-076","v":4.05},{"s":"R3FR","t":"2014-082","v":4.05},{"s":"R3FR","t":"2014-089","v":4.06},{"s":"R3FR","t":"2014-101","v":4.07},{"s":"R3FR","t":"2014-112","v":4.1},{"s":"R3FR","t":"2014-125","v":4.1},{"s":"R3FR","t":"2014-137","v":4.085},{"s":"R3FR","t":"2014-147","v":4.05},{"s":"R3FR","t":"2014-159","v":4.04},{"s":"R3FR","t":"2014-164","v":4.04},{"s":"R3FR","t":"2014-175","v":3.99},{"s":"R3FR","t":"2014-183","v":3.97},{"s":"R3FR","t":"2014-189","v":3.95},{"s":"R3FR","t":"2014-196","v":3.98},{"s":"R3FR","t":"2014-207","v":3.99},{"s":"R3FR","t":"2014-216","v":4.0},{"s":"R3FR","t":"2014-223","v":4.03},{"s":"R3FR","t":"2014-231","v":4.02},{"s":"R3FR","t":"2014-239","v":4.03},{"s":"R3FR","t":"2014-245","v":4.02},{"s":"R3FR","t":"2014-252","v":3.98},{"s":"R3FR","t":"2014-257","v":3.98},{"s":"R3FR","t":"2014-265","v":3.96},{"s":"R3FR","t":"2014-272","v":3.96},{"s":"R3FR","t":"2014-287","v":3.91},{"s":"R3FR","t":"2014-293","v":3.91},{"s":"R3FR","t":"2014-307","v":3.9},{"s":"R3FR","t":"2014-314","v":3.87},{"s":"R3FR","t":"2014-322","v":3.88},{"s":"R3FR","t":"2014-335","v":3.85},{"s":"R3FR","t":"2014-343","v":3.86},{"s":"R3FR","t":"2014-354","v":3.86},{"s":"R3FR","t":"2015-001","v":3.9},{"s":"R3FR","t":"2015-011","v":3.9},{"s":"R3FR","t":"2015-019","v":3.83},{"s":"R3FR","t":"2015-026","v":3.84},{"s":"R3FR","t":"2015-034","v":3.82},{"s":"R3FR","t":"2015-047","v":3.88},{"s":"R3FR","t":"2015-055","v":3.87},{"s":"R3FR","t":"2015-063","v":3.9},{"s":"R3FR","t":"2015-077","v":3.92},{"s":"R3FR","t":"2015-090","v":3.92},{"s":"R3FR","t":"2015-098","v":3.9},{"s":"R3FR","t":"2015-112","v":3.9},{"s":"R3FR","t":"2015-128","v":3.92},{"s":"R3FR","t":"2015-138","v":3.94},{"s":"R3FR","t":"2015-146","v":3.94},{"s":"R3FR","t":"2015-154","v":3.92},{"s":"R3FR","t":"2015-160","v":3.93},{"s":"R3FR","t":"2015-168","v":3.965},{"s":"R3FR","t":"2015-176","v":3.98},{"s":"R3FR","t":"2015-186","v":4.02},{"s":"R3FR","t":"2015-197","v":4.05},{"s":"R3FR","t":"2015-208","v":4.07},{"s":"R3FR","t":"2015-216","v":4.11},{"s":"R3FR","t":"2015-224","v":4.1},{"s":"R3FR","t":"2015-234","v":4.1},{"s":"R3FR","t":"2015-242","v":4.08},{"s":"R3FR","t":"2015-253","v":4.03},{"s":"R3FR","t":"2015-267","v":3.99},{"s":"R3FR","t":"2015-283","v":3.985},{"s":"R3FR","t":"2015-293","v":3.94},{"s":"R3FR","t":"2015-301","v":3.94},{"s":"R3FR","t":"2015-315","v":3.9},{"s":"R3FR","t":"2015-320","v":3.88},{"s":"R3FR","t":"2015-328","v":3.86},{"s":"R3FR","t":"2015-335","v":3.8},{"s":"R3FR","t":"2015-341","v":3.79},{"s":"R3FR","t":"2015-343","v":3.84},{"s":"R3FR","t":"2015-348","v":3.78},{"s":"R3FR","t":"2015-357","v":3.78},{"s":"R3FR","t":"2015-363","v":3.79},{"s":"R3FR","t":"2016-008","v":3.775},{"s":"R3FR","t":"2016-019","v":3.76},{"s":"R3FR","t":"2016-027","v":3.74},{"s":"R3FR","t":"2016-034","v":3.74},{"s":"R3FR","t":"2016-040","v":3.71},{"s":"R3FR","t":"2016-049","v":3.73},{"s":"R3FR","t":"2016-055","v":3.71},{"s":"R3FR","t":"2016-063","v":3.74},{"s":"R3FR","t":"2016-073","v":3.75},{"s":"R3FR","t":"2016-081","v":3.76}
        ]
      },
      "mark": {"type": "line", "strokeCap": "round", "strokeJoin": "round"},
      "encoding": {
        "x": {
          "field": "t", "type": "temporal",
          "scale": {"domain": [{"year": 2012, "month": 12, "date": 31}, {"year": 2016, "month": 10, "date": 9, "hours": 12}]},
          "axis": {
            "values": [{"year": 2012, "month": 12, "date": 31}, {"year": 2013, "month": 6, "date": 30}, {"year": 2013, "month": 12, "date": 31}, {"year": 2014, "month": 6, "date": 30}, {"year": 2014, "month": 12, "date": 31}, {"year": 2015, "month": 6, "date": 30}, {"year": 2015, "month": 12, "date": 31}],
            "format": "%d/%m/%Y", "title": null, "domain": false, "grid": false,
            "labelFontSize": 32, "labelColor": "black", "labelFont": "Liberation Sans", "labelFlush": false, "labelOverlap": false, "labelPadding": 13,
            "tickSize": 10, "tickWidth": 2, "tickColor": "black", "zindex": 1
          }
        },
        "y": {
          "field": "v", "type": "quantitative",
          "scale": {"domain": [1, 5]},
          "axis": {
            "values": [1, 1.5, 2, 2.5, 3, 3.5, 4, 4.5, 5],
            "format": ".1~f", "labelExpr": "replace(datum.label, '.', ',')", "grid": false,
            "labelFontSize": 34, "labelColor": "black", "labelFont": "Liberation Sans", "labelPadding": 21,
            "tickSize": 10, "tickWidth": 2, "tickColor": "black", "domainColor": "black", "domainWidth": 2, "zindex": 1,
            "title": "€/kg carcasse", "titleAngle": 0, "titleAlign": "left", "titleBaseline": "alphabetic",
            "titleX": -71, "titleY": -42, "titleFontSize": 37, "titleFontWeight": "bold", "titleColor": "black", "titleFont": "Liberation Sans"
          }
        },
        "color": {"field": "s", "type": "nominal", "legend": null, "scale": {"domain": ["R3FR", "R3UE", "O3FR", "O3IR", "O3DE", "O3UE", "O3NL"], "range": ["#FF0000", "#000000", "#FF0000", "#0000FF", "#33CCCC", "#000000", "#FF00FF"]}},
        "strokeDash": {"field": "s", "type": "nominal", "legend": null, "scale": {"domain": ["R3FR", "R3UE", "O3FR", "O3IR", "O3DE", "O3UE", "O3NL"], "range": [[1, 0], [1, 0], [10, 13], [10, 13], [10, 13], [10, 13], [10, 13]]}},
        "strokeWidth": {"condition": {"test": "datum.s === 'R3UE'", "value": 7}, "value": 5}
      }
    },
    {
      "data": {"name": "legend"},
      "mark": {"type": "rule", "strokeCap": "round"},
      "encoding": {
        "x": {"field": "a", "type": "temporal"},
        "x2": {"field": "b"},
        "y": {"field": "y", "type": "quantitative"},
        "color": {"field": "s", "type": "nominal", "legend": null, "scale": {"domain": ["R3FR", "R3UE", "O3FR", "O3IR", "O3DE", "O3UE", "O3NL"], "range": ["#FF0000", "#000000", "#FF0000", "#0000FF", "#33CCCC", "#000000", "#FF00FF"]}},
        "strokeDash": {"field": "s", "type": "nominal", "legend": null, "scale": {"domain": ["R3FR", "R3UE", "O3FR", "O3IR", "O3DE", "O3UE", "O3NL"], "range": [[1, 0], [1, 0], [14, 13], [14, 13], [14, 13], [14, 13], [14, 13]]}},
        "strokeWidth": {"condition": {"test": "datum.s === 'R3UE'", "value": 8}, "value": 6}
      }
    },
    {
      "data": {"name": "legend"},
      "mark": {"type": "text", "fontSize": 32, "fontWeight": "bold", "align": "center", "baseline": "middle", "dy": -27},
      "encoding": {
        "x": {"field": "c", "type": "temporal"},
        "y": {"field": "y", "type": "quantitative"},
        "text": {"field": "price"},
        "color": {"field": "s", "type": "nominal", "legend": null, "scale": {"domain": ["O3FR", "O3DE", "O3IR", "O3NL", "R3FR", "O3UE", "R3UE"], "range": ["#FF0000", "#00B0F0", "#3333FF", "#FF00FF", "#FF3300", "#009900", "#000000"]}}
      }
    },
    {
      "data": {"name": "legend"},
      "mark": {"type": "text", "fontSize": 32, "fontWeight": "bold", "align": "center", "baseline": "middle"},
      "encoding": {
        "x": {"field": "c", "type": "temporal"},
        "y": {"field": "q", "type": "quantitative"},
        "text": {"field": "pct"},
        "color": {"field": "s", "type": "nominal", "legend": null, "scale": {"domain": ["O3FR", "O3DE", "O3IR", "O3NL", "R3FR", "O3UE", "R3UE"], "range": ["#FF0000", "#00B0F0", "#3333FF", "#FF00FF", "#FF3300", "#009900", "#000000"]}}
      }
    },
    {
      "data": {"name": "legend"},
      "mark": {"type": "text", "fontSize": 30, "fontWeight": "bold", "align": "left", "baseline": "middle", "dx": 12, "dy": 3, "color": "black"},
      "encoding": {
        "x": {"field": "b", "type": "temporal"},
        "y": {"field": "y", "type": "quantitative"},
        "text": {"field": "label"}
      }
    },
    {
      "data": {"values": [{"txt": "Sur 12 semaines (16/15)", "y": 2.01}, {"txt": "Prix moyens cumulés (€/kg)", "y": 1.824}, {"txt": "Ecarts cumulés (%)", "y": 1.581}]},
      "mark": {"type": "text", "fontSize": 31, "fontWeight": "bold", "align": "left", "baseline": "middle"},
      "encoding": {
        "x": {"datum": {"year": 2015, "month": 6, "date": 5}, "type": "temporal"},
        "y": {"field": "y", "type": "quantitative"},
        "text": {"field": "txt"},
        "color": {"condition": {"test": "datum.txt === 'Sur 12 semaines (16/15)'", "value": "#FF0000"}, "value": "#000000"}
      }
    },
    {
      "data": {"values": [{}]},
      "mark": {"type": "rule", "color": "#FF0000", "strokeWidth": 2.5},
      "encoding": {
        "x": {"datum": {"year": 2015, "month": 6, "date": 5}, "type": "temporal"},
        "x2": {"datum": {"year": 2016, "month": 3, "date": 12}},
        "y": {"datum": 1.933, "type": "quantitative"}
      }
    },
    {
      "data": {"values": [{}]},
      "mark": {"type": "rect", "color": "#C0C0C0"},
      "encoding": {
        "x": {"datum": {"year": 2016, "month": 4, "date": 1}, "type": "temporal"},
        "x2": {"datum": {"year": 2016, "month": 10, "date": 12}},
        "y": {"datum": 5.111, "type": "quantitative"},
        "y2": {"datum": 4.412}
      }
    },
    {
      "data": {"values": [{"txt": "Prix moyen", "y": 4.976}, {"txt": "Semaine 12", "y": 4.819}, {"txt": "(sem. 21/03/16)", "y": 4.671}, {"txt": "€/kg", "y": 4.513}]},
      "mark": {"type": "text", "fontSize": 26, "fontWeight": "bold", "align": "center", "baseline": "middle"},
      "encoding": {
        "x": {"datum": {"year": 2016, "month": 7, "date": 5, "hours": 12}, "type": "temporal"},
        "y": {"field": "y", "type": "quantitative"},
        "text": {"field": "txt"},
        "color": {"condition": {"test": "datum.txt === 'Semaine 12'", "value": "#FF0000"}, "value": "#000000"}
      }
    },
    {
      "data": {"name": "latest"},
      "mark": {"type": "text", "fontSize": 33, "fontWeight": "bold", "align": "left", "baseline": "alphabetic"},
      "encoding": {
        "x": {"datum": {"year": 2016, "month": 6, "date": 9}, "type": "temporal"},
        "y": {"field": "y", "type": "quantitative"},
        "text": {"field": "price"},
        "color": {"field": "s", "type": "nominal", "legend": null, "scale": {"domain": ["R3FR", "R3UE", "O3FR", "O3IR", "O3UE", "O3NL", "O3DE"], "range": ["#FF3300", "#000000", "#FF0000", "#3333FF", "#000000", "#FF00FF", "#00B0F0"]}}
      }
    },
    {
      "data": {"name": "latest"},
      "mark": {"type": "text", "fontSize": 22, "fontWeight": "bold", "align": "left", "baseline": "alphabetic"},
      "encoding": {
        "x": {"datum": {"year": 2016, "month": 8, "date": 8}, "type": "temporal"},
        "y": {"field": "y", "type": "quantitative"},
        "text": {"field": "code"},
        "color": {"field": "s", "type": "nominal", "legend": null, "scale": {"domain": ["R3FR", "R3UE", "O3FR", "O3IR", "O3UE", "O3NL", "O3DE"], "range": ["#FF3300", "#000000", "#FF0000", "#3333FF", "#000000", "#FF00FF", "#00B0F0"]}}
      }
    }
  ]
}
